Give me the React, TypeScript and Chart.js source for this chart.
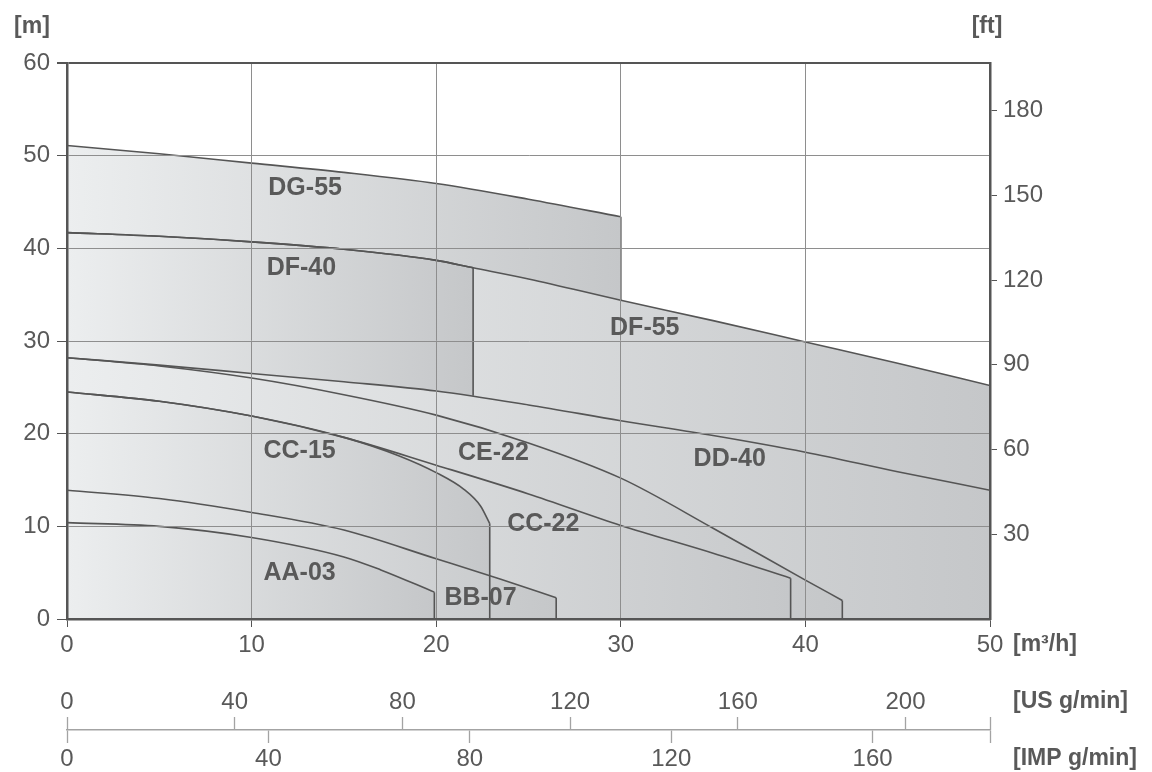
import React, { useEffect, useRef } from 'react';
import { Chart, registerables } from 'chart.js';

Chart.register(...registerables);

// ---- unit conversions ----
const M3H_TO_US_GPM = 4.40287;
const M3H_TO_IMP_GPM = 3.66615;
const M_TO_FT = 3.28084;

// ---- axis ranges & tick labels ----
const FLOW_MAX = 50;
const HEAD_MAX = 60;
const FLOW_TICKS = [0, 10, 20, 30, 40, 50];
const HEAD_TICKS = [0, 10, 20, 30, 40, 50, 60];
const FT_TICKS = [30, 60, 90, 120, 150, 180];
const US_TICKS = [0, 40, 80, 120, 160, 200];
const IMP_TICKS = [0, 40, 80, 120, 160];

// ---- pump curves: flow Q [m3/h], head H [m] ----
const DG55_Q = [0, 5, 10, 15, 20, 25, 30];
const DG55_H = [51.1, 50.2, 49.2, 48.2, 47.0, 45.3, 43.4];
const DF55_Q = [0, 5, 10, 15, 20, 22, 25, 30, 35, 40, 45, 50];
const DF55_H = [41.7, 41.3, 40.7, 39.9, 38.7, 37.9, 36.7, 34.4, 32.2, 29.9, 27.6, 25.2];
const DF40_Q = [0, 5, 10, 15, 20, 22];
const DF40_H = [41.7, 41.3, 40.7, 39.9, 38.7, 37.9];
const DD40_Q = [0, 5, 10, 15, 20, 25, 30, 35, 40, 45, 50];
const DD40_H = [28.2, 27.4, 26.5, 25.6, 24.6, 23.1, 21.4, 19.8, 18.0, 15.9, 13.9];
const CE22_Q = [0, 5, 10, 15, 20, 25, 30, 35, 40, 42];
const CE22_H = [28.2, 27.3, 26.0, 24.2, 22.0, 19.0, 15.2, 9.8, 4.2, 2.0];
const CC22_Q = [0, 5, 10, 15, 20, 25, 30, 35, 39.2];
const CC22_H = [24.5, 23.5, 21.9, 19.6, 16.6, 13.5, 10.1, 7.1, 4.4];
const CC15_Q = [0, 5, 10, 15, 18, 20, 21.5, 22.4, 22.9];
const CC15_H = [24.5, 23.5, 21.9, 19.6, 17.6, 15.8, 14.0, 12.2, 10.3];
const BB07_Q = [0, 5, 10, 15, 20, 23.5, 26.5];
const BB07_H = [13.9, 13.0, 11.5, 9.6, 6.5, 4.3, 2.3];
const AA03_Q = [0, 5, 10, 15, 17, 19.9];
const AA03_H = [10.4, 10.0, 8.8, 6.7, 5.3, 2.9];

// back-to-front order
const PUMP_NAMES = ['DG-55', 'DF-55', 'DF-40', 'DD-40', 'CE-22', 'CC-22', 'CC-15', 'BB-07', 'AA-03'];
const PUMP_Q = [DG55_Q, DF55_Q, DF40_Q, DD40_Q, CE22_Q, CC22_Q, CC15_Q, BB07_Q, AA03_Q];
const PUMP_H = [DG55_H, DF55_H, DF40_H, DD40_H, CE22_H, CC22_H, CC15_H, BB07_H, AA03_H];
// head where the vertical end line of each curve stops
const EDGE_BOTTOM_H = [34.4, 0, 24.1, 0, 0, 0, 0, 0, 0];
// label anchors (data units)
const LABEL_Q = [12.9, 31.3, 12.7, 35.9, 23.1, 25.8, 12.6, 22.4, 12.6];
const LABEL_H = [46.5, 31.4, 37.9, 17.3, 17.9, 10.2, 18.1, 2.3, 5.0];

const W = 1152;
const H = 772;
const FONT = '"Liberation Sans", Arial, Helvetica, sans-serif';
const TEXT = '#595959';
const DARK = '#555555';
const GRID = '#8e8e8e';
const LIGHT = '#a3a3a3';
const FILL_START = 'rgb(236,238,239)';
const FILL_END = 'rgb(197,199,201)';

function makeGradient(c: any, qEnd: number) {
  const chart = c.chart;
  const xs = chart.scales && chart.scales.x;
  if (!chart.chartArea || !xs) return FILL_END;
  const x0 = xs.getPixelForValue(0);
  const x1 = xs.getPixelForValue(qEnd);
  const g = chart.ctx.createLinearGradient(x0, 0, x1, 0);
  g.addColorStop(0, FILL_START);
  g.addColorStop(1, FILL_END);
  return g;
}

function buildDatasets() {
  const sets: any[] = [];
  PUMP_NAMES.forEach((name, i) => {
    const q = PUMP_Q[i];
    const h = PUMP_H[i];
    const qEnd = q[q.length - 1];
    const hEnd = h[h.length - 1];
    sets.push({
      label: name,
      data: q.map((v, k) => ({ x: v, y: h[k] })),
      borderColor: DARK,
      borderWidth: 1.6,
      pointRadius: 0,
      cubicInterpolationMode: 'monotone',
      fill: 'origin',
      backgroundColor: (c: any) => makeGradient(c, qEnd),
      order: 100 - 2 * i,
    });
    sets.push({
      label: name + ' end',
      data: [
        { x: qEnd, y: hEnd },
        { x: qEnd, y: EDGE_BOTTOM_H[i] },
      ],
      borderColor: DARK,
      borderWidth: 1.6,
      pointRadius: 0,
      tension: 0,
      fill: false,
      order: 99 - 2 * i,
    });
  });
  return sets;
}

const textPlugin = {
  id: 'pumpText',
  afterDraw(chart: any) {
    const { ctx, chartArea, scales } = chart;
    const x = scales.x;
    const y = scales.y;
    ctx.save();
    ctx.fillStyle = TEXT;
    ctx.textBaseline = 'middle';
    ctx.textAlign = 'center';
    ctx.font = `bold 25px ${FONT}`;
    PUMP_NAMES.forEach((n, i) => {
      ctx.fillText(n, x.getPixelForValue(LABEL_Q[i]), y.getPixelForValue(LABEL_H[i]));
    });
    ctx.font = `bold 23px ${FONT}`;
    ctx.fillText('[m]', chartArea.left - 35, chartArea.top - 36);
    ctx.fillText('[ft]', chartArea.right - 3, chartArea.top - 36);
    ctx.textAlign = 'left';
    const lx = chartArea.right + 23;
    ctx.fillText('[m\u00B3/h]', lx, chartArea.bottom + 26);
    ctx.fillText('[US g/min]', lx, scales.xUS.top + 23);
    ctx.fillText('[IMP g/min]', lx, scales.xIMP.top + 29);
    ctx.restore();
  },
};

function buildConfig(): any {
  const tickFont = { family: FONT, size: 24 };
  return {
    type: 'line',
    data: { datasets: buildDatasets() },
    plugins: [textPlugin],
    options: {
      responsive: false,
      animation: false,
      events: [],
      layout: { padding: { top: 63, left: 0, right: 0, bottom: 0 } },
      plugins: {
        legend: { display: false },
        tooltip: { enabled: false },
        filler: { drawTime: 'beforeDatasetsDraw' },
      },
      scales: {
        x: {
          type: 'linear',
          position: 'bottom',
          weight: 1,
          min: 0,
          max: FLOW_MAX,
          afterBuildTicks: (s: any) => {
            s.ticks = FLOW_TICKS.map((v) => ({ value: v }));
          },
          afterFit: (s: any) => {
            s.height = 60;
          },
          grid: {
            z: 1,
            color: (c: any) => (c.tick && (c.tick.value === 0 || c.tick.value === FLOW_MAX) ? DARK : GRID),
            lineWidth: 1,
            tickColor: DARK,
            tickLength: 8,
          },
          border: { z: 2, color: DARK, width: 2.5 },
          ticks: { font: tickFont, color: TEXT, padding: 4, maxRotation: 0 },
        },
        xUS: {
          type: 'linear',
          axis: 'x',
          position: 'bottom',
          weight: 2,
          min: 0,
          max: FLOW_MAX * M3H_TO_US_GPM,
          afterBuildTicks: (s: any) => {
            s.ticks = US_TICKS.map((v) => ({ value: v }));
          },
          afterFit: (s: any) => {
            s.height = 38;
          },
          grid: { display: false, drawTicks: false, drawOnChartArea: false },
          border: { display: false },
          ticks: { font: tickFont, color: TEXT, padding: 9, maxRotation: 0 },
        },
        xUSt: {
          type: 'linear',
          axis: 'x',
          position: 'bottom',
          weight: 3,
          min: 0,
          max: FLOW_MAX * M3H_TO_US_GPM,
          afterBuildTicks: (s: any) => {
            s.ticks = US_TICKS.concat([FLOW_MAX * M3H_TO_US_GPM]).map((v) => ({ value: v }));
          },
          afterFit: (s: any) => {
            s.height = 13;
          },
          grid: { display: true, drawOnChartArea: false, drawTicks: true, tickLength: 13, tickColor: LIGHT, tickWidth: 1.3 },
          border: { display: false },
          ticks: { display: false },
        },
        xIMP: {
          type: 'linear',
          axis: 'x',
          position: 'bottom',
          weight: 4,
          min: 0,
          max: FLOW_MAX * M3H_TO_IMP_GPM,
          afterBuildTicks: (s: any) => {
            s.ticks = IMP_TICKS.concat([FLOW_MAX * M3H_TO_IMP_GPM]).map((v) => ({ value: v }));
          },
          afterFit: (s: any) => {
            s.height = 42;
          },
          grid: { display: true, drawOnChartArea: false, drawTicks: true, tickLength: 13, tickColor: LIGHT, tickWidth: 1.3 },
          border: { display: true, color: LIGHT, width: 1.5 },
          ticks: {
            font: tickFont,
            color: TEXT,
            padding: 2,
            maxRotation: 0,
            autoSkip: false,
            callback: (v: number) => (IMP_TICKS.indexOf(v) >= 0 ? String(v) : ''),
          },
        },
        y: {
          type: 'linear',
          position: 'left',
          min: 0,
          max: HEAD_MAX,
          afterBuildTicks: (s: any) => {
            s.ticks = HEAD_TICKS.map((v) => ({ value: v }));
          },
          afterFit: (s: any) => {
            s.width = 67;
          },
          grid: {
            z: 1,
            color: (c: any) => (c.tick && (c.tick.value === HEAD_MAX || c.tick.value === 0) ? DARK : GRID),
            lineWidth: (c: any) => (c.tick && c.tick.value === HEAD_MAX ? 2 : 1),
            tickColor: DARK,
            tickLength: 10,
          },
          border: { z: 2, color: DARK, width: 2.5 },
          ticks: { font: tickFont, color: TEXT, padding: 7 },
        },
        y2: {
          type: 'linear',
          position: 'right',
          min: 0,
          max: HEAD_MAX * M_TO_FT,
          afterBuildTicks: (s: any) => {
            s.ticks = FT_TICKS.map((v) => ({ value: v }));
          },
          afterFit: (s: any) => {
            s.width = W - 990;
          },
          grid: { z: 1, drawOnChartArea: false, tickColor: DARK, tickLength: 7 },
          border: { z: 2, color: DARK, width: 2.5 },
          ticks: { font: tickFont, color: TEXT, padding: 6 },
        },
      },
    },
  };
}

export default function App() {
  const ref = useRef<HTMLCanvasElement | null>(null);
  useEffect(() => {
    document.body.style.margin = '0';
    const chart = new Chart(ref.current as HTMLCanvasElement, buildConfig());
    return () => chart.destroy();
  }, []);
  return (
    <div style={{ width: W, height: H, background: '#fff' }}>
      <canvas ref={ref} width={W} height={H} style={{ display: 'block' }} />
    </div>
  );
}
